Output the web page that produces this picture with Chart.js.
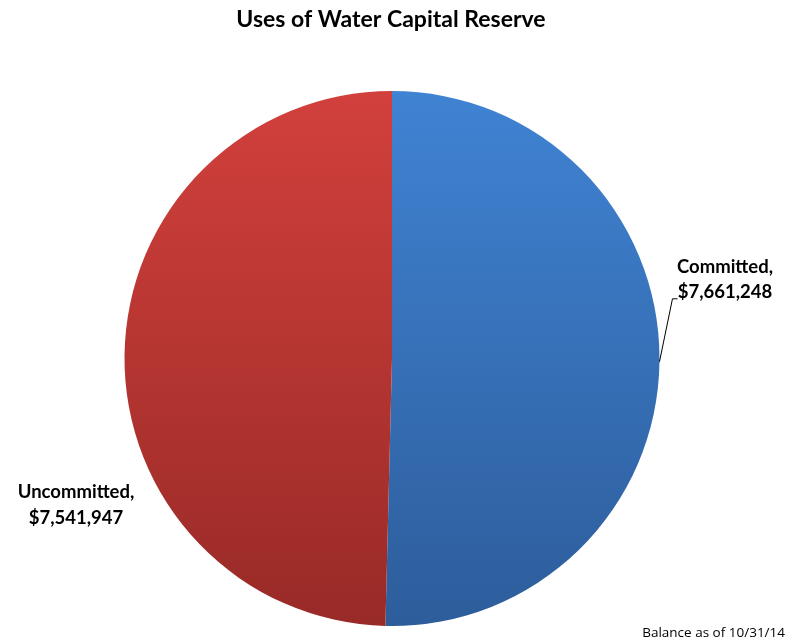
<!DOCTYPE html>
<html>
<head>
<meta charset="utf-8">
<script src="https://cdn.jsdelivr.net/npm/chart.js@4/dist/chart.umd.min.js"></script>
<style>
  html, body { margin: 0; padding: 0; background: #fff; }
  #wrap { width: 787px; height: 642px; position: relative; }
</style>
</head>
<body>
<div id="wrap"><canvas id="pieChart" width="787" height="642"></canvas></div>
<script>
// --- Data ---
const categories = ['Committed', 'Uncommitted'];
const amounts = [7661248, 7541947];
const chartTitle = 'Uses of Water Capital Reserve';
const footNote = 'Balance as of 10/31/14';

// gradient stops per slice (top, bottom)
const sliceColors = [
    ['#4083d3', '#2d5d9b'],
    ['#d2403c', '#982a27']
];

const FONT = 'Lato, "Liberation Sans", sans-serif';

function money(v) {
    return '$' + v.toLocaleString('en-US');
}

function sliceFill(context) {
    const chart = context.chart;
    const area = chart.chartArea;
    if (!area) return sliceColors[context.dataIndex][0];
    const g = chart.ctx.createLinearGradient(0, area.top, 0, area.bottom);
    g.addColorStop(0, sliceColors[context.dataIndex][0]);
    g.addColorStop(1, sliceColors[context.dataIndex][1]);
    return g;
}

// --- Labels, title and leader line ---
const textPlugin = {
    id: 'textPlugin',
    afterDraw(chart) {
        const ctx = chart.ctx;
        const meta = chart.getDatasetMeta(0);
        ctx.save();
        ctx.fillStyle = '#000';
        ctx.textBaseline = 'middle';

        // title
        ctx.font = 'bold 23px ' + FONT;
        ctx.textAlign = 'center';
        ctx.fillText(chartTitle, 391, 20);

        // committed label + leader
        const a0 = meta.data[0];
        const mid0 = (a0.startAngle + a0.endAngle) / 2;
        const sx = a0.x + Math.cos(mid0) * a0.outerRadius;
        const sy = a0.y + Math.sin(mid0) * a0.outerRadius;
        ctx.strokeStyle = '#000';
        ctx.lineWidth = 1;
        ctx.beginPath();
        ctx.moveTo(sx, sy);
        ctx.lineTo(sx + 13, sy - 63);
        ctx.lineTo(sx + 18, sy - 63);
        ctx.stroke();

        ctx.font = 'bold 18.5px ' + FONT;
        ctx.textAlign = 'center';
        ctx.fillText(categories[0] + ',', 725, 267);
        ctx.fillText(money(amounts[0]), 725, 292);

        ctx.fillText(categories[1] + ',', 76, 492);
        ctx.fillText(money(amounts[1]), 76, 518);

        // footnote
        ctx.font = '13.5px "Open Sans", sans-serif';
        ctx.textAlign = 'right';
        ctx.fillText(footNote, 785, 633);
        ctx.restore();
    }
};

new Chart(document.getElementById('pieChart'), {
    type: 'pie',
    data: {
        labels: categories,
        datasets: [{
            data: amounts,
            backgroundColor: sliceFill,
            borderWidth: 0
        }]
    },
    options: {
        responsive: false,
        animation: false,
        layout: {
            padding: { top: 91, bottom: 16, left: 124, right: 127 }
        },
        plugins: {
            legend: { display: false },
            tooltip: { enabled: false },
            title: { display: false }
        }
    },
    plugins: [textPlugin]
});
</script>
</body>
</html>
